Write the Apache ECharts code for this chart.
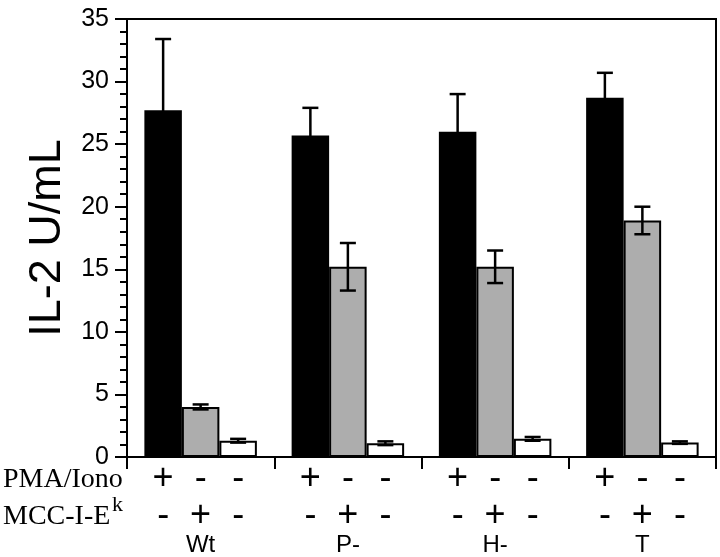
<!DOCTYPE html>
<html><head><meta charset="utf-8">
<script src="https://cdn.jsdelivr.net/npm/echarts@6/dist/echarts.min.js"></script>
<style>html,body{margin:0;padding:0;background:#fff}#c{width:720px;height:557px}</style>
</head><body><div id="c"></div>
<script>
// ---- data ----
const groups = ['Wt', 'P-', 'H-', 'T'];
const pmaIonoVals = [27.7, 25.7, 26.0, 28.7];
const pmaIonoErr = [5.7, 2.2, 3.0, 2.0];
const mccVals = [4.0, 15.2, 15.2, 18.9];
const mccErr = [0.2, 1.9, 1.3, 1.1];
const noneVals = [1.3, 1.1, 1.45, 1.15];
const noneErr = [0.15, 0.15, 0.15, 0.1];
const pmaFlags = ['+', '-', '-'];
const mccFlags = ['-', '+', '-'];
const yTitle = 'IL-2 U/mL';

// ---- styles ----
const BAR_W = 37.5;
const SANS = '"Liberation Sans", Arial, sans-serif';
const SERIF = '"Liberation Serif", "Times New Roman", serif';
const fills = ['#000000', '#adadad', '#ffffff'];
const valsList = [pmaIonoVals, mccVals, noneVals];
const errList = [pmaIonoErr, mccErr, noneErr];

const chart = echarts.init(document.getElementById('c'), null, {renderer: 'canvas'});

const barSeries = valsList.map((vals, k) => ({
  type: 'bar',
  data: vals,
  barWidth: BAR_W,
  barGap: '0%',
  itemStyle: {color: fills[k], borderColor: '#000', borderWidth: k === 0 ? 0 : 2},
  label: {
    show: true, position: 'bottom', distance: 4,
    formatter: pmaFlags[k] + '\n' + mccFlags[k],
    fontSize: 36, lineHeight: 37, color: '#000', fontFamily: SANS
  },
  emphasis: {disabled: true},
  z: 2
}));

const errSeries = valsList.map((vals, k) => ({
  type: 'custom',
  z: 10,
  encode: {x: 0, y: [1, 2]},
  data: vals.map((v, i) => [i, v - errList[k][i], v + errList[k][i]]),
  renderItem: (params, api) => {
    const i = api.value(0);
    const lo = api.coord([i, api.value(1)]);
    const hi = api.coord([i, api.value(2)]);
    const x = lo[0] + (k - 1) * BAR_W;
    const cap = 8;
    const st = {stroke: '#000', lineWidth: 2.5};
    return {type: 'group', children: [
      {type: 'line', shape: {x1: x, y1: lo[1], x2: x, y2: hi[1]}, style: st},
      {type: 'line', shape: {x1: x - cap, y1: hi[1], x2: x + cap, y2: hi[1]}, style: st},
      {type: 'line', shape: {x1: x - cap, y1: lo[1], x2: x + cap, y2: lo[1]}, style: st}
    ]};
  }
}));

chart.setOption({
  animation: false,
  backgroundColor: '#fff',
  grid: {left: 127, right: 4, top: 19, bottom: 97, show: true, borderColor: '#000', borderWidth: 2, backgroundColor: 'transparent'},
  xAxis: {
    type: 'category', data: groups,
    axisLine: {lineStyle: {color: '#000', width: 2}},
    axisTick: {show: true, length: 12, lineStyle: {color: '#000', width: 2}},
    axisLabel: {margin: 76, fontSize: 24, color: '#000', fontFamily: SANS},
    splitLine: {show: false}
  },
  yAxis: {
    type: 'value', min: 0, max: 35, interval: 5,
    name: yTitle, nameLocation: 'middle', nameGap: 40, nameRotate: 90,
    nameTextStyle: {fontSize: 45, color: '#000', fontFamily: SANS},
    axisLine: {show: true, lineStyle: {color: '#000', width: 2}},
    axisTick: {show: true, length: 12, lineStyle: {color: '#000', width: 2}},
    minorTick: {show: true, splitNumber: 5, length: 7, lineStyle: {color: '#000', width: 2}},
    axisLabel: {margin: 18, fontSize: 25, color: '#000', fontFamily: SANS},
    splitLine: {show: false}
  },
  graphic: [
    {type: 'text', left: 3, top: 466, style: {text: 'PMA/Iono', font: '28px ' + SERIF, fill: '#000'}},
    {type: 'text', left: 3, top: 503, style: {text: 'MCC-I-E', font: '28px ' + SERIF, fill: '#000'}},
    {type: 'text', left: 112, top: 494, style: {text: 'k', font: '22px ' + SERIF, fill: '#000'}}
  ],
  series: [...barSeries, ...errSeries]
});
</script>
</body></html>
